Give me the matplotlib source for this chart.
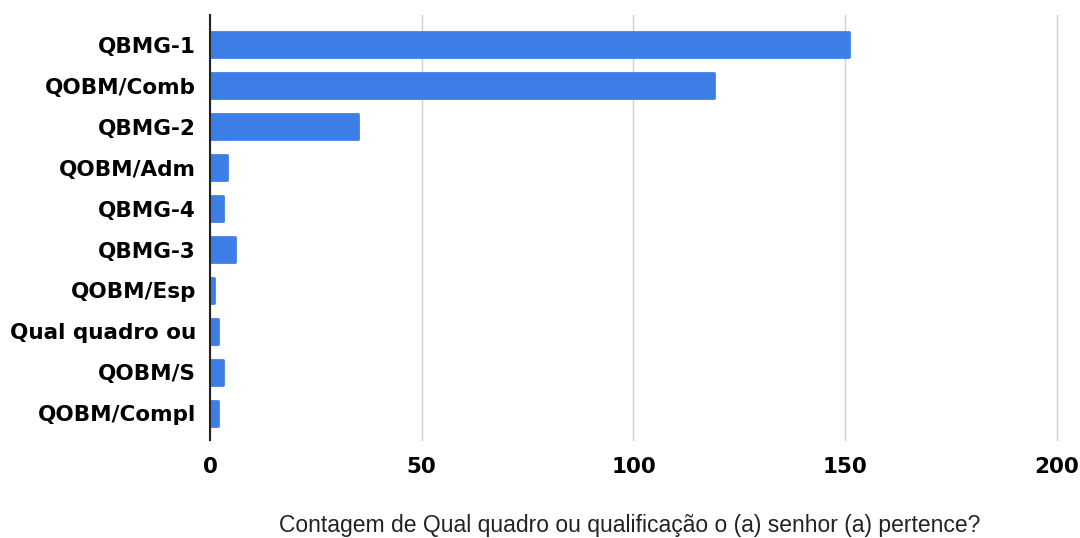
import matplotlib.pyplot as plt

# Counts per quadro / qualificação
categories = ['QBMG-1', 'QOBM/Comb', 'QBMG-2', 'QOBM/Adm', 'QBMG-4',
              'QBMG-3', 'QOBM/Esp', 'Qual quadro ou', 'QOBM/S', 'QOBM/Compl']
counts = [151, 119, 35, 4, 3, 6, 1, 2, 3, 2]
xticks = [0, 50, 100, 150, 200]

bar_color = '#3d7fe6'

fig = plt.figure(figsize=(10.8, 5.38), dpi=100)
ax = fig.add_axes([0.1944, 0.182, 0.7843, 0.79])

pos = list(range(len(categories)))
ax.barh(pos, counts, height=0.6, color=bar_color, edgecolor=bar_color,
        linewidth=2.0, joinstyle='round', zorder=3)

ax.set_xlim(0, 200)
ax.set_ylim(9.65, -0.72)
ax.set_yticks(pos)
ax.set_yticklabels(categories, fontsize=15.5, fontweight='heavy',
                   family='DejaVu Sans')
ax.set_xticks(xticks)
ax.set_xticklabels([str(t) for t in xticks], fontsize=15.5, fontweight='heavy',
                   family='DejaVu Sans')
ax.tick_params(axis='both', length=0)
ax.tick_params(axis='y', pad=10)
ax.tick_params(axis='x', pad=12)

ax.grid(axis='x', color='#d0d0d0', linewidth=1, zorder=0)
for gl in ax.get_xgridlines():
    gl.set_clip_on(False)
for side in ['top', 'right', 'bottom']:
    ax.spines[side].set_visible(False)
ax.spines['left'].set_color('#222222')
ax.spines['left'].set_linewidth(1.5)
ax.spines['left'].set_zorder(4)

fig.text(630 / 1080, 1 - 532 / 538,
         'Contagem de Qual quadro ou qualificação o (a) senhor (a) pertence?',
         ha='center', va='baseline', fontsize=16.5, family='Liberation Sans',
         color='#222222')

fig.savefig('out.png', dpi=100, facecolor='white')
